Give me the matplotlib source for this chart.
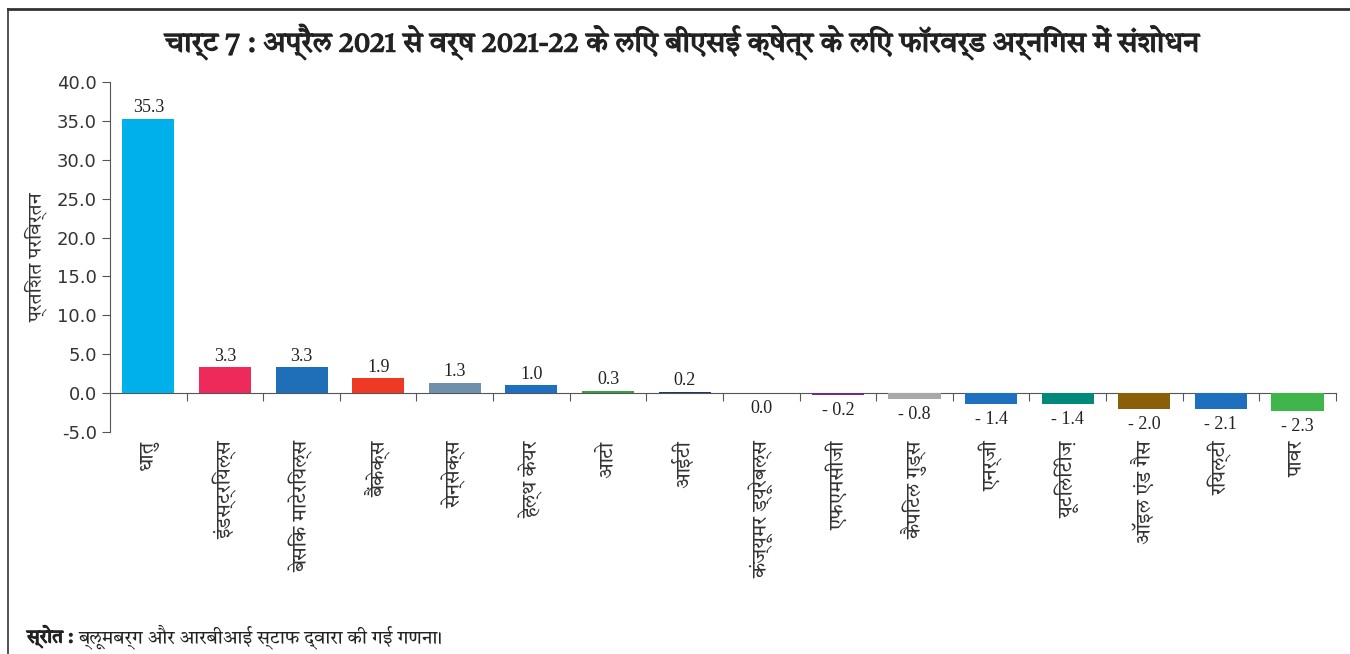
import numpy as np
import matplotlib
matplotlib.use("Agg")
import matplotlib.pyplot as plt
import matplotlib.patheffects as pe
from matplotlib import font_manager
from matplotlib.ft2font import FT2Font

# Data
# ======================================================
SECTORS = ["धातु", "इंडस्ट्रियल्स", "बेसिक माटेरियल्स", "बैंकेक्स", "सेन्सेक्स",
           "हेल्थ केयर", "आटो", "आईटी", "कंज्यूमर ड्यूरेबल्स", "एफएमसीजी",
           "कैपिटल गुड्स", "एनर्जी", "यूटिलिटीज़", "ऑइल एंड गैस", "रियल्टी", "पावर"]
REVISION = [35.3, 3.3, 3.3, 1.9, 1.3, 1.0, 0.3, 0.2, 0.0, -0.2,
            -0.8, -1.4, -1.4, -2.0, -2.1, -2.3]
BAR_COLORS = ["#00B0EB", "#EE2A5B", "#1F6FB8", "#EE3A24", "#6F90AC",
              "#1E6FBF", "#3A9D43", "#1B3A6B", "#6B5A2E", "#6B2C8F",
              "#A7A9AC", "#1F70BF", "#00897B", "#8B5E0A", "#1F6FBF", "#40B54A"]
Y_TICKS = np.arange(-5, 41, 5)

TITLE = "चार्ट 7 : अप्रैल 2021 से वर्ष 2021-22 के लिए बीएसई क्षेत्र के लिए फॉरवर्ड अर्निंगस में संशोधन"
Y_LABEL = "प्रतिशत परिवर्तन"
SOURCE_HEAD = "स्रोत :"
SOURCE_TEXT = "ब्लूमबर्ग और आरबीआई स्टाफ द्वारा की गई गणना।"


# Font: pick an installed proportional family that has Devanagari glyphs
# ======================================================
def find_devanagari_family():
    found = []
    for f in font_manager.fontManager.ttflist:
        try:
            cmap = FT2Font(f.fname).get_charmap()
        except Exception:
            continue
        if ord("क") in cmap and ord("ा") in cmap:
            found.append(f.name)
    if not found:
        return None

    def rank(name):
        n = name.lower()
        if "mono" in n:
            return 9
        if "devanagari" in n and "sans" in n:
            return 0
        if "lohit" in n:
            return 1
        if "freesans" in n:
            return 2
        if "devanagari" in n:
            return 3
        if "freeserif" in n:
            return 4
        return 5
    return sorted(set(found), key=rank)[0]


deva = find_devanagari_family()
families = ([deva] if deva else []) + ["DejaVu Sans"]
plt.rcParams["font.family"] = families
NUM_FONT = "DejaVu Sans"
VAL_FONT = "Liberation Serif"
BOLD = [pe.withStroke(linewidth=0.9, foreground="#222222")]

# Figure
# ======================================================
fig = plt.figure(figsize=(13.5, 6.54), dpi=100)
ax = fig.add_axes([0.0815, 0.3394, 0.908, 0.5352])

x = np.arange(len(SECTORS))
ax.bar(x, REVISION, width=0.68, color=BAR_COLORS, zorder=2)

ymin, ymax = -5, 40
ax.set_ylim(ymin, ymax)
ax.set_xlim(-0.5, len(SECTORS) - 0.5)

# value labels
for xi, v in zip(x, REVISION):
    if v > 0:
        ax.annotate(f"{v:.1f}", (xi, v), xytext=(0, 2), textcoords="offset points",
                    ha="center", va="bottom", fontsize=13, family=VAL_FONT,
                    color="#222222")
    else:
        txt = f"{v:.1f}" if v == 0 else f"- {abs(v):.1f}"
        ax.annotate(txt, (xi, v), xytext=(0, -5), textcoords="offset points",
                    ha="center", va="top", fontsize=13, family=VAL_FONT,
                    color="#222222")

# y axis
ax.set_yticks(Y_TICKS)
ax.set_yticklabels([f"{t:.1f}" for t in Y_TICKS], fontsize=13, color="#333333",
                   family=NUM_FONT)
ax.tick_params(axis="y", direction="out", length=6, color="#555555")
ax.set_ylabel(Y_LABEL, fontsize=14, color="#333333", labelpad=7)

# category labels along the bottom of the axes
ax.set_xticks(x)
ax.set_xticklabels(SECTORS, rotation=90, fontsize=14.5, color="#333333")
ax.tick_params(axis="x", length=0, pad=6)

for side in ["top", "right", "bottom"]:
    ax.spines[side].set_visible(False)
ax.spines["left"].set_color("#555555")

# zero line with category separators
zero_frac = (0 - ymin) / (ymax - ymin)
sec = ax.secondary_xaxis(zero_frac)
sec.set_xticks(np.arange(0.5, len(SECTORS), 1.0))
sec.set_xticklabels([])
sec.tick_params(direction="out", length=6, color="#555555")
sec.spines["bottom"].set_color("#555555")

# title, source, frame
title = fig.text(0.506, 0.935, TITLE, ha="center", va="center", fontsize=20.5,
                 fontweight="bold", color="#222222", path_effects=BOLD)
head = fig.text(0.020, 0.027, SOURCE_HEAD, ha="left", va="center", fontsize=13.5,
                fontweight="bold", color="#222222", path_effects=BOLD)
fig.add_artist(plt.Line2D([0.006, 1.0], [0.986, 0.986], color="#333333", lw=2))
fig.add_artist(plt.Line2D([0.006, 0.006], [0.0, 0.986], color="#333333", lw=1.2))

# keep long texts inside the figure
fig.canvas.draw()
renderer = fig.canvas.get_renderer()
W, H = fig.bbox.width, fig.bbox.height
tw = title.get_window_extent(renderer).width
if tw > 0.95 * W:
    title.set_fontsize(20.5 * 0.95 * W / tw)
hb = head.get_window_extent(renderer)
fig.text((hb.x1 + 6) / W, 0.027, SOURCE_TEXT, ha="left", va="center", fontsize=13.5,
         color="#222222")
lowest = min(t.get_window_extent(renderer).y0 for t in ax.get_xticklabels())
if lowest < 0.09 * H:
    for t in ax.get_xticklabels():
        t.set_fontsize(14.5 * (0.339 * H - 0.09 * H) / (0.339 * H - lowest))

fig.savefig("out.png", dpi=100)
plt.close(fig)
